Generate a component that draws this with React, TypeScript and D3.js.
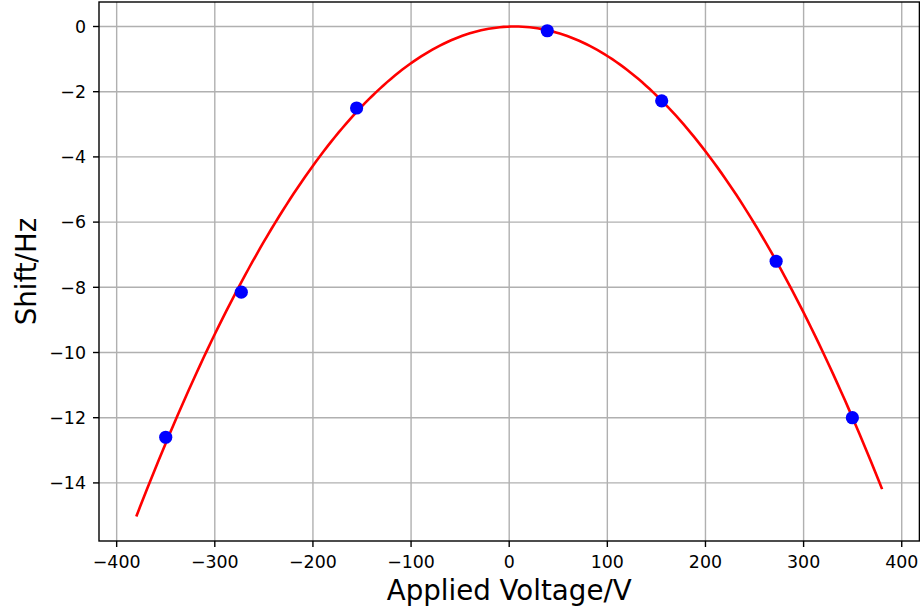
import React from "react";
import * as d3 from "d3";

// Measured shift at each applied voltage
const voltages = [-350, -273, -155.5, 38.8, 155.4, 272, 349.7];
const shifts = [-12.6, -8.15, -2.5, -0.13, -2.28, -7.2, -12.0];

// Quadratic fit: shift = A*v^2 + B*v + C, drawn over FIT_RANGE
const FIT_A = -1.0116e-4;
const FIT_B = 1.1047e-3;
const FIT_C = -0.003;
const FIT_RANGE = [-380, 380];
const FIT_SAMPLES = 200;

const xTicks = [-400, -300, -200, -100, 0, 100, 200, 300, 400];
const yTicks = [0, -2, -4, -6, -8, -10, -12, -14];

const W = 920;
const H = 609;
const M = { left: 99, right: 0.6, top: 2, bottom: 68 };
const FONT = "'DejaVu Sans', sans-serif";

const fmt = (v: number) => (v < 0 ? "\u2212" + Math.abs(v) : String(v));

export default function App() {
  const fitX = d3.range(FIT_SAMPLES).map(
    (i) => FIT_RANGE[0] + ((FIT_RANGE[1] - FIT_RANGE[0]) * i) / (FIT_SAMPLES - 1)
  );
  const fitPts: [number, number][] = fitX.map((v) => [v, FIT_A * v * v + FIT_B * v + FIT_C]);

  // matplotlib-style 5% autoscale margins
  const allX = [...fitX, ...voltages];
  const allY = [...fitPts.map((p) => p[1]), ...shifts];
  const [x0, x1] = d3.extent(allX) as [number, number];
  const [y0, y1] = d3.extent(allY) as [number, number];
  const px = (x1 - x0) * 0.05;
  const py = (y1 - y0) * 0.05;

  const x = d3.scaleLinear().domain([x0 - px, x1 + px]).range([M.left, W - M.right]);
  const y = d3.scaleLinear().domain([y0 - py, y1 + py]).range([H - M.bottom, M.top]);

  const line = d3
    .line<[number, number]>()
    .x((d) => x(d[0]))
    .y((d) => y(d[1]));

  const left = M.left;
  const right = W - M.right;
  const top = M.top;
  const bottom = H - M.bottom;

  return (
    <svg
      width={W}
      height={H}
      style={{ position: "absolute", left: 0, top: 0, background: "#fff" }}
      fontFamily={FONT}
    >
      <rect x={0} y={0} width={W} height={H} fill="#fff" />
      {/* grid */}
      <g stroke="#b0b0b0" strokeWidth={1.4}>
        {xTicks.map((t) => (
          <line key={"gx" + t} x1={x(t)} x2={x(t)} y1={top} y2={bottom} />
        ))}
        {yTicks.map((t) => (
          <line key={"gy" + t} x1={left} x2={right} y1={y(t)} y2={y(t)} />
        ))}
      </g>
      <path d={line(fitPts) || ""} fill="none" stroke="#ff0000" strokeWidth={2.6} />
      {voltages.map((v, i) => (
        <circle key={"p" + i} cx={x(v)} cy={y(shifts[i])} r={6.6} fill="#0000ff" />
      ))}
      {/* spines */}
      <rect
        x={left}
        y={top}
        width={right - left}
        height={bottom - top}
        fill="none"
        stroke="#000"
        strokeWidth={1.4}
      />
      {/* x ticks */}
      <g>
        {xTicks.map((t) => (
          <g key={"xt" + t}>
            <line x1={x(t)} x2={x(t)} y1={bottom} y2={bottom + 6} stroke="#000" strokeWidth={1.4} />
            <text x={x(t)} y={568.3} textAnchor="middle" fontSize={17.4} fill="#000">
              {fmt(t)}
            </text>
          </g>
        ))}
      </g>
      {/* y ticks */}
      <g>
        {yTicks.map((t) => (
          <g key={"yt" + t}>
            <line x1={left - 6} x2={left} y1={y(t)} y2={y(t)} stroke="#000" strokeWidth={1.4} />
            <text x={86} y={y(t) + 6.3} textAnchor="end" fontSize={17.4} fill="#000">
              {fmt(t)}
            </text>
          </g>
        ))}
      </g>
      <text x={(left + right) / 2} y={599.5} textAnchor="middle" fontSize={27.7} fill="#000">
        Applied Voltage/V
      </text>
      <text
        transform={`translate(35.5, ${(top + bottom) / 2}) rotate(-90)`}
        textAnchor="middle"
        fontSize={27.7}
        fill="#000"
      >
        Shift/Hz
      </text>
    </svg>
  );
}
